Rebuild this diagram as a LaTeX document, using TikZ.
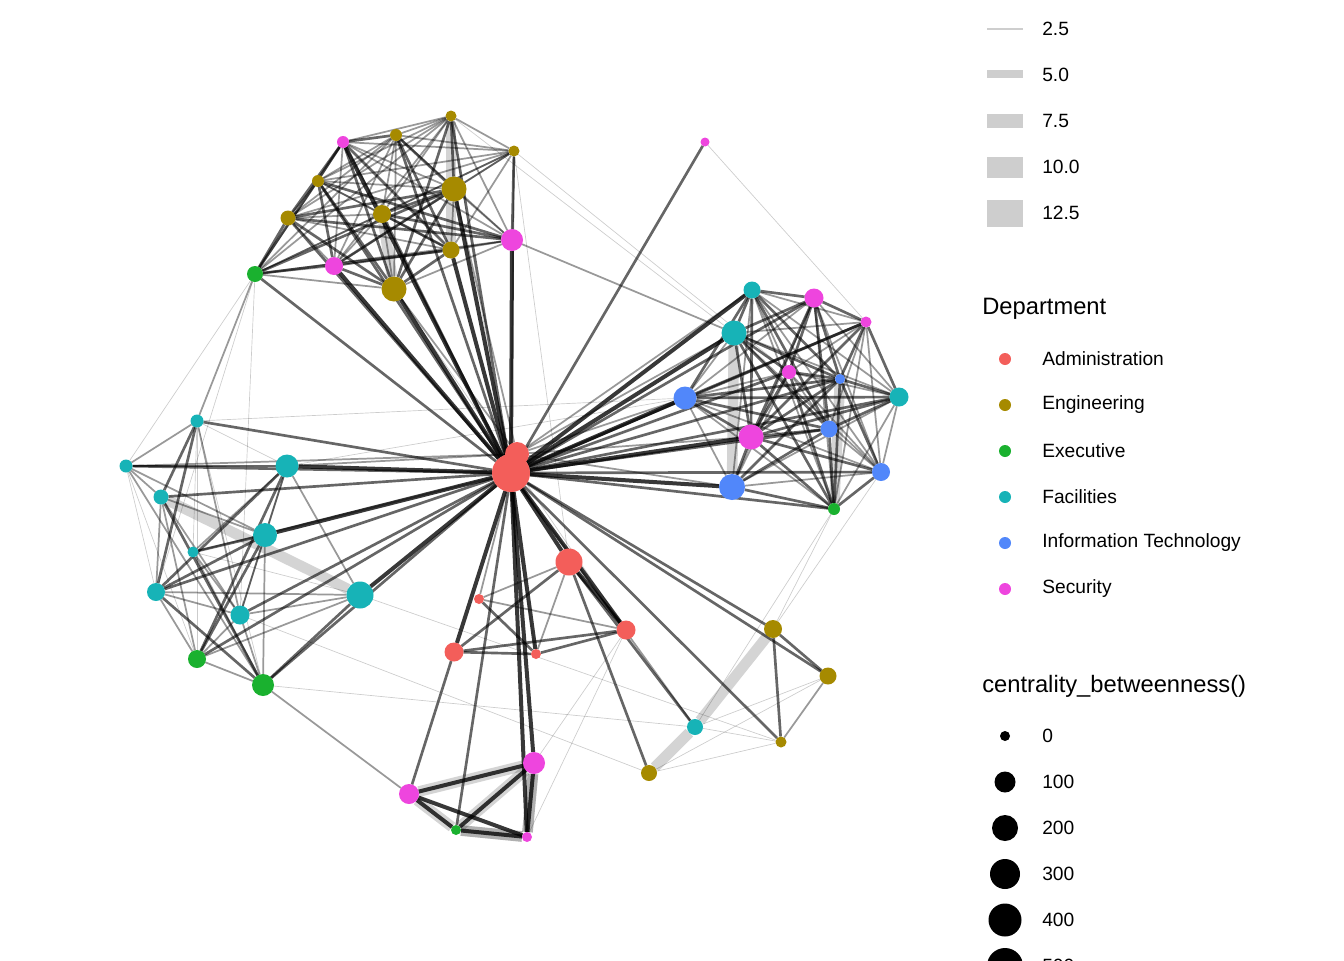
\documentclass[tikz,border=0pt]{standalone}
\usepackage{fontspec}
\setmainfont{Liberation Sans}
\usetikzlibrary{backgrounds}
\definecolor{admcol}{HTML}{F35E5A}
\definecolor{engcol}{HTML}{A68A00}
\definecolor{execol}{HTML}{1AB12F}
\definecolor{faccol}{HTML}{17B3B7}
\definecolor{itcol}{HTML}{5187FA}
\definecolor{seccol}{HTML}{EE45DE}
\definecolor{keygray}{HTML}{CECECE}
\begin{document}
\begin{tikzpicture}[x=0.75pt,y=-0.75pt]
\tikzset{
	vertex/.style={circle,fill=#1,inner sep=0pt,outer sep=0pt},
	rad/.style={minimum size=#1*1.5pt},
	adm node/.style={vertex=admcol},
	eng node/.style={vertex=engcol},
	exe node/.style={vertex=execol},
	fac node/.style={vertex=faccol},
	it node/.style={vertex=itcol},
	sec node/.style={vertex=seccol},
	faint edge/.style={line width=0.5pt,black,opacity=0.2},
	mid edge/.style={line width=1.3pt,black,opacity=0.4},
	dark edge/.style={line width=2pt,black,opacity=0.6},
	heavy edge/.style={line width=3pt,black,opacity=0.78},
	wide edge/.style={line width=8pt,black,opacity=0.17},
	key text/.style={anchor=west,inner sep=0pt,font=\fontsize{14.4pt}{16pt}\selectfont},
	key title/.style={anchor=west,inner sep=0pt,font=\fontsize{17.8pt}{20pt}\selectfont}
}
\useasboundingbox (0,0) rectangle (1344,960);
\clip (0,0) rectangle (1344,960);

% administration
\node[adm node,rad=12] (adm1) at (517,454) {};
\node[adm node,rad=19] (adm2) at (511,473) {};
\node[adm node,rad=13.5] (adm3) at (569,562) {};
\node[adm node,rad=5] (adm4) at (479,599) {};
\node[adm node,rad=9.5] (adm5) at (626,630) {};
\node[adm node,rad=9.5] (adm6) at (454,652) {};
\node[adm node,rad=5] (adm7) at (536,654) {};
% engineering
\node[eng node,rad=6] (eng1) at (396,135) {};
\node[eng node,rad=5.5] (eng2) at (451,116) {};
\node[eng node,rad=5.5] (eng3) at (514,151) {};
\node[eng node,rad=6] (eng4) at (318,181) {};
\node[eng node,rad=7.5] (eng5) at (288,218) {};
\node[eng node,rad=12.5] (eng6) at (454,189) {};
\node[eng node,rad=9] (eng7) at (382,214) {};
\node[eng node,rad=8.5] (eng8) at (451,250) {};
\node[eng node,rad=12.5] (eng9) at (394,289) {};
\node[eng node,rad=9] (eng10) at (773,629) {};
\node[eng node,rad=8.5] (eng11) at (828,676) {};
\node[eng node,rad=5.5] (eng12) at (781,742) {};
\node[eng node,rad=8] (eng13) at (649,773) {};
% executive
\node[exe node,rad=8] (exe1) at (255,274) {};
\node[exe node,rad=9] (exe2) at (197,659) {};
\node[exe node,rad=11] (exe3) at (263,685) {};
\node[exe node,rad=6] (exe4) at (834,509) {};
\node[exe node,rad=5] (exe5) at (456,830) {};
% facilities
\node[fac node,rad=6.5] (fac1) at (197,421) {};
\node[fac node,rad=6.5] (fac2) at (126,466) {};
\node[fac node,rad=11.5] (fac3) at (287,466) {};
\node[fac node,rad=7.5] (fac4) at (161,497) {};
\node[fac node,rad=12] (fac5) at (265,535) {};
\node[fac node,rad=5.5] (fac6) at (193,552) {};
\node[fac node,rad=9] (fac7) at (156,592) {};
\node[fac node,rad=13.5] (fac8) at (360,595) {};
\node[fac node,rad=9.5] (fac9) at (240,615) {};
\node[fac node,rad=8.5] (fac10) at (752,290) {};
\node[fac node,rad=12.5] (fac11) at (734,333) {};
\node[fac node,rad=9.5] (fac12) at (899,397) {};
\node[fac node,rad=8] (fac13) at (695,727) {};
% information technology
\node[it node,rad=5] (it1) at (840,379) {};
\node[it node,rad=11.5] (it2) at (685,398) {};
\node[it node,rad=8.5] (it3) at (829,429) {};
\node[it node,rad=9] (it4) at (881,472) {};
\node[it node,rad=13] (it5) at (732,487) {};
% security
\node[sec node,rad=6] (sec1) at (343,142) {};
\node[sec node,rad=11] (sec2) at (512,240) {};
\node[sec node,rad=9] (sec3) at (334,266) {};
\node[sec node,rad=4.5] (sec4) at (705,142) {};
\node[sec node,rad=9.5] (sec5) at (814,298) {};
\node[sec node,rad=5.5] (sec6) at (866,322) {};
\node[sec node,rad=7] (sec7) at (789,372) {};
\node[sec node,rad=12.5] (sec8) at (751,437) {};
\node[sec node,rad=10] (sec9) at (409,794) {};
\node[sec node,rad=11] (sec10) at (534,763) {};
\node[sec node,rad=5] (sec11) at (527,837) {};

\begin{scope}[on background layer]
% wide bands
\foreach \u/\v in {eng2/eng8,eng7/eng9,fac4/fac8,fac11/it5,it1/exe4,eng13/fac13,fac13/eng10,
	sec9/sec10,sec9/exe5,exe5/sec11,sec10/sec11,exe5/sec10,sec10/sec11,exe5/sec11}
	\draw[wide edge] (\u) -- (\v);
% faint links
\foreach \u/\v in {sec4/sec6,eng3/sec7,eng2/fac11,fac1/it2,fac9/eng13,exe3/fac13,exe4/fac13,
	exe4/eng10,it4/eng10,sec10/adm5,sec11/adm5,eng9/adm5,eng3/adm3,eng2/adm7,fac6/fac8,
	fac1/fac3,fac1/exe3,fac1/fac6,fac1/exe2,fac2/fac7,fac2/exe2,eng13/eng11,eng13/eng12,
	fac13/eng12,fac13/eng11,exe1/fac2,fac8/eng12,fac3/it2,exe1/fac7,exe1/fac9}
	\draw[faint edge] (\u) -- (\v);
% medium links
\foreach \u/\v in {sec1/eng2,sec1/eng3,sec1/eng4,sec1/eng6,sec1/eng7,sec1/sec2,sec1/sec3,
	eng1/eng2,eng1/eng3,eng1/eng4,eng1/eng5,eng1/eng7,eng1/sec2,eng1/sec3,eng1/eng9,eng1/exe1,
	eng2/eng3,eng2/eng4,eng2/eng5,eng2/eng7,eng2/sec2,eng2/sec3,eng2/exe1,eng3/eng4,eng3/eng5,
	eng3/eng6,eng3/eng7,eng3/eng8,eng3/sec3,eng3/exe1,eng4/eng5,eng4/eng6,eng4/eng7,eng4/eng8,
	eng4/exe1,eng5/eng7,eng5/eng8,eng5/sec3,eng6/sec2,eng6/eng8,eng7/sec3,eng7/eng9,eng7/exe1,
	sec2/eng8,sec2/sec3,sec2/exe1,sec2/eng9,eng8/sec3,sec3/exe1,exe1/eng9,sec2/fac11,exe1/fac1,
	adm2/eng3,
	fac10/sec6,fac10/sec7,fac10/fac12,fac10/it5,fac10/exe4,fac10/it4,sec5/fac12,sec5/it2,
	sec5/it4,sec5/exe4,sec5/it5,sec6/fac11,sec6/sec7,sec6/it3,sec6/it4,sec6/exe4,fac11/it2,
	fac11/fac12,fac11/it4,sec7/it2,sec7/fac12,sec7/it3,sec7/it4,sec7/it5,it2/it4,it2/it5,
	it2/exe4,fac12/it4,fac12/exe4,fac12/it5,it3/it4,it4/it5,adm1/it2,adm1/fac11,adm1/sec8,
	fac1/fac2,fac1/fac9,fac2/fac4,fac2/fac5,fac2/exe3,fac3/fac6,fac3/fac9,fac3/fac8,fac3/fac5,
	fac4/fac5,fac4/exe2,fac4/fac9,fac4/fac7,fac5/exe3,fac5/fac9,fac6/exe3,fac6/fac9,fac7/fac8,
	fac7/fac9,fac7/exe2,fac8/exe2,fac8/fac9,fac9/exe2,fac9/exe3,exe2/exe3,adm2/fac6,exe3/sec9,
	adm2/fac13,adm2/adm4,adm3/adm4,adm3/adm7,adm4/adm5,eng12/eng11,adm1/fac3,adm1/fac2,
	adm1/eng6,adm1/eng9,adm1/it5,adm1/fac10}
	\draw[mid edge] (\u) -- (\v);
% dark links
\foreach \u/\v in {sec1/eng5,sec1/eng8,sec1/eng1,exe1/sec1,eng1/eng8,eng2/eng6,
	eng2/eng9,eng4/eng9,eng4/sec2,eng4/sec3,eng5/sec2,eng5/eng6,eng5/eng9,exe1/eng5,eng7/eng6,
	eng7/sec2,eng7/eng8,sec3/eng6,sec3/eng9,exe1/eng6,exe1/eng8,eng9/eng6,eng9/eng8,eng3/sec2,
	eng1/eng6,sec1/eng9,
	adm2/eng7,adm2/eng2,adm2/eng1,adm2/exe1,adm2/eng5,adm2/eng4,adm2/sec4,
	fac10/fac11,fac10/sec5,fac10/it1,fac10/sec8,fac10/it3,fac10/it2,sec5/sec6,sec5/it1,
	sec5/sec8,sec5/it3,sec5/fac11,sec5/sec7,sec6/it1,sec6/fac12,sec6/sec8,sec6/it2,fac11/it1,
	fac11/sec7,fac11/it3,fac11/sec8,fac11/exe4,sec7/it1,sec7/sec8,sec7/exe4,it1/fac12,it1/exe4,
	it1/sec8,it1/it4,it1/it2,it1/it5,it2/fac12,it2/sec8,it2/it3,fac12/sec8,fac12/it3,it3/sec8,
	it3/exe4,sec8/it4,sec8/exe4,it4/exe4,it5/it3,it5/exe4,sec8/it5,
	adm2/sec7,adm2/it1,adm2/it3,adm2/fac12,adm2/it4,adm2/exe4,adm2/sec5,adm2/sec6,
	fac1/fac4,fac1/fac7,fac2/fac3,fac3/fac7,fac3/exe2,fac4/exe3,fac5/fac6,fac5/fac7,fac5/exe2,
	fac7/exe3,fac8/exe3,adm2/fac1,adm2/fac2,adm2/fac4,adm2/fac7,adm2/fac9,adm2/exe2,adm2/exe3,
	adm2/eng10,adm2/eng11,adm2/eng12,adm3/adm6,adm3/eng13,adm3/fac13,adm6/adm5,adm6/adm7,
	adm7/adm5,adm4/adm7,adm6/sec9,adm2/exe5,eng10/eng12,eng10/eng11}
	\draw[dark edge] (\u) -- (\v);
% heavy links
\foreach \u/\v in {adm2/eng9,adm2/sec3,adm2/eng8,adm2/sec2,adm2/sec1,adm2/eng6,
	adm2/it2,adm2/fac11,adm2/sec8,adm2/it5,adm2/fac10,adm2/fac3,adm2/fac5,adm2/fac8,
	adm2/adm5,adm2/adm3,adm3/adm5,adm2/adm6,adm2/adm7,adm2/sec10,adm2/sec11,
	sec9/sec10,sec9/exe5,sec9/sec11,exe5/sec10,exe5/sec11,sec10/sec11}
	\draw[heavy edge] (\u) -- (\v);
\end{scope}

% edge width key
\fill[keygray] (987,28.4) rectangle (1023,29.6);
\fill[keygray] (987,70) rectangle (1023,78);
\fill[keygray] (987,114) rectangle (1023,128);
\fill[keygray] (987,156.5) rectangle (1023,177.5);
\fill[keygray] (987,199.5) rectangle (1023,226.5);
\node[key text] (w1) at (1042,29) {2.5};
\node[key text] (w2) at (1042,75) {5.0};
\node[key text] (w3) at (1042,121) {7.5};
\node[key text] (w4) at (1042,167) {10.0};
\node[key text] (w5) at (1042,213) {12.5};

% department key
\node[key title] (dept) at (982,309) {Department};
\node[adm node,rad=6] (d1) at (1005,359) {};
\node[eng node,rad=6] (d2) at (1005,405) {};
\node[exe node,rad=6] (d3) at (1005,451) {};
\node[fac node,rad=6] (d4) at (1005,497) {};
\node[it node,rad=6] (d5) at (1005,543) {};
\node[sec node,rad=6] (d6) at (1005,589) {};
\node[key text] at (1042,359) {Administration};
\node[key text] at (1042,405) {Engineering};
\node[key text] at (1042,451) {Executive};
\node[key text] at (1042,497) {Facilities};
\node[key text] at (1042,543) {Information Technology};
\node[key text] at (1042,589) {Security};

% size key
\node[key title] (size) at (982,686) {centrality\_betweenness()};
\node[vertex=black,rad=5] (s1) at (1005,736) {};
\node[vertex=black,rad=10.5] (s2) at (1005,782) {};
\node[vertex=black,rad=13] (s3) at (1005,828) {};
\node[vertex=black,rad=15] (s4) at (1005,874) {};
\node[vertex=black,rad=16.5] (s5) at (1005,920) {};
\node[vertex=black,rad=18] (s6) at (1005,966) {};
\node[key text] at (1042,736) {0};
\node[key text] at (1042,782) {100};
\node[key text] at (1042,828) {200};
\node[key text] at (1042,874) {300};
\node[key text] at (1042,920) {400};
\node[key text] at (1042,966) {500};
\end{tikzpicture}
\end{document}
